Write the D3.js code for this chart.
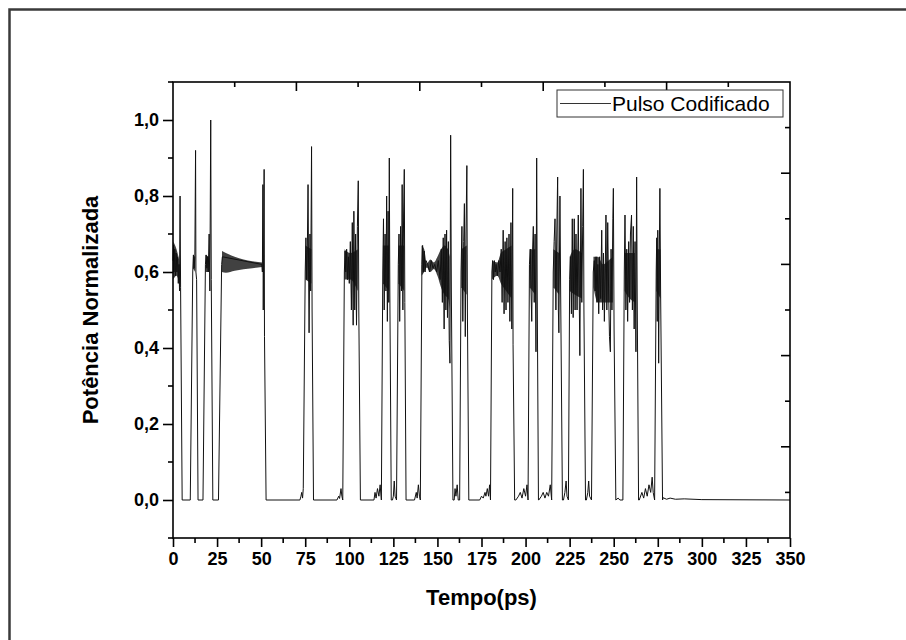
<!DOCTYPE html>
<html>
<head>
<meta charset="utf-8">
<script src="https://cdn.jsdelivr.net/npm/d3@7"></script>
<style>
  body { margin: 0; background: #fff; }
  text { font-family: "Liberation Sans", Arial, sans-serif; }
</style>
</head>
<body>
<div id="chart"></div>
<script>
// Pulso codificado: potência normalizada versus tempo (ps)
var xTicks = [0, 25, 50, 75, 100, 125, 150, 175, 200, 225, 250, 275, 300, 325, 350];
var xMinor = [12.5, 37.5, 62.5, 87.5, 112.5, 137.5, 162.5, 187.5, 212.5, 237.5, 262.5, 287.5, 312.5, 337.5];
var yTicks = [0, 0.2, 0.4, 0.6, 0.8, 1.0];
var yMinor = [-0.1, 0.1, 0.3, 0.5, 0.7, 0.9, 1.1];
var auxTicks = [1, 2, 3, 4, 5, 6, 7, 8, 9]; // eixos secundarios (topo e direita)

// traço: [tempo, potência]
var pulso = [
  [0,0.63],[0.3,0.67],[0.6,0.6],[1,0.66],[1.4,0.59],[1.8,0.65],[2.2,0.6],[2.6,0.64],[3,0.57],[3.4,0.62],[3.7,0.55],[4.0,0.8],[4.3,0.56],[5.2,0],
  [9.8,0],[11.2,0.6],[11.6,0.645],[12,0.61],[12.4,0.64],[12.8,0.92],[13.0,0.6],[13.4,0.58],[14.2,0],
  [17,0],[18.4,0.62],[18.8,0.645],[19.2,0.61],[19.6,0.64],[20,0.6],[20.5,0.7],[20.9,0.55],[21.4,1.0],[21.7,0.58],[22.6,0],
  [25.8,0],[27.6,0.62],[28,0.64],[50.4,0.62],[50.7,0.6],[51,0.83],[51.2,0.5],[51.7,0.87],[51.9,0.43],[52.8,0],
  [72,0],[72.6,0.01],[73,0.02],[73.5,0.005],[73.9,0.03],
  [75,0.6],[75.4,0.69],[75.8,0.58],[76.2,0.66],[76.6,0.83],[77,0.55],[77.2,0.44],[77.7,0.7],[78.1,0.55],[78.6,0.93],[78.9,0.5],[79.7,0],
  [93,0],[94,0.01],[94.5,0.004],[95.3,0.03],[95.8,0.01],[96.3,0],
  [97.2,0.6],[97.6,0.655],[98,0.6],[98.5,0.66],[99,0.58],[99.5,0.64],[100,0.57],[100.6,0.68],[101.2,0.5],[101.7,0.73],[102.2,0.46],[102.6,0.76],[103.1,0.5],[103.6,0.7],[104.1,0.46],[104.6,0.72],[105.1,0.84],[105.4,0.5],[106.3,0],
  [114,0],[114.6,0.02],[115.2,0.005],[116,0.03],[116.8,0.01],[117.5,0.04],[118.2,0],
  [119,0.6],[119.4,0.74],[119.8,0.5],[120.3,0.7],[120.8,0.55],[121.2,0.8],[121.6,0.47],[122,0.76],[122.4,0.52],[122.7,0.9],[123,0.55],[123.8,0],
  [124.5,0],[125,0.01],[125.5,0.05],[126,0.01],[126.8,0],
  [127.8,0.62],[128.2,0.7],[128.6,0.47],[129.1,0.72],[129.6,0.55],[130,0.83],[130.4,0.5],[130.8,0.75],[131.2,0.87],[131.5,0.52],[132.2,0],
  [137,0],[138,0.02],[138.5,0.005],[139.2,0.04],[139.8,0.01],[140.3,0],
  [141.2,0.62],[141.6,0.67],[142,0.6],[142.5,0.655],[143,0.6],[143.5,0.63],[144.5,0.62],[145.5,0.6],[146.5,0.63],[147.5,0.61],[148.5,0.62],[149.5,0.6],[150.5,0.63],[151.5,0.58],[152.2,0.66],[152.8,0.52],[153.3,0.69],[153.8,0.45],[154.3,0.7],[154.8,0.5],[155.2,0.71],[155.7,0.48],[156.2,0.68],[156.7,0.42],[157.1,0.36],[157.5,0.96],[157.9,0.55],[158.8,0],
  [159.5,0],[160,0.03],[160.5,0.01],[161.2,0.04],[161.8,0],[162.6,0],
  [163.4,0.6],[163.9,0.72],[164.4,0.47],[164.9,0.68],[165.3,0.78],[165.8,0.43],[166.2,0.7],[166.7,0.88],[167,0.5],[167.8,0],
  [174,0],[175,0.01],[176,0.005],[177,0.02],[177.5,0.01],[178.3,0.03],[179,0.01],[179.6,0.04],[180.1,0],
  [180.9,0.6],[181.3,0.63],[181.8,0.58],[182.3,0.63],[182.8,0.6],[183.3,0.62],[184,0.59],[184.8,0.63],[185.5,0.6],[186.2,0.66],[186.7,0.52],[187.3,0.71],[187.8,0.49],[188.4,0.68],[188.9,0.5],[189.4,0.69],[190,0.52],[190.6,0.7],[191.1,0.47],[191.7,0.73],[192.2,0.45],[192.7,0.82],[192.9,0.41],[193.8,0],
  [194.5,0],[196,0.01],[197,0.02],[198,0.005],[199,0.03],[200,0.01],[200.8,0.04],[201.4,0],
  [202.2,0.62],[202.7,0.66],[203.1,0.55],[203.5,0.47],[204,0.66],[204.4,0.72],[204.9,0.52],[205.4,0.7],[205.9,0.39],[206.3,0.9],[206.6,0.55],[207.3,0],
  [207.5,0],[209,0.01],[210,0.02],[211,0.005],[212,0.02],[213,0.01],[214,0.04],[214.8,0],
  [215.7,0.6],[216.2,0.68],[216.7,0.74],[217.2,0.5],[217.7,0.7],[218.2,0.85],[218.6,0.5],[218.9,0.44],[219.5,0.8],[219.9,0.55],[220.9,0],
  [221.5,0],[222.3,0.02],[223,0.05],[223.5,0.01],[224.3,0],
  [225,0.58],[225.5,0.64],[226,0.49],[226.5,0.74],[227,0.48],[227.6,0.74],[228.1,0.5],[228.6,0.7],[229.2,0.5],[229.9,0.75],[230.4,0.55],[230.8,0.38],[231.4,0.82],[231.9,0.52],[232.4,0.72],[232.8,0.87],[233.1,0.5],[234,0],
  [234.5,0],[235.3,0.02],[235.8,0.05],[236.3,0.01],[237.4,0],
  [238.4,0.6],[239,0.63],[239.5,0.55],[240,0.64],[240.5,0.52],[241,0.62],[241.5,0.49],[242,0.64],[242.6,0.53],[243.2,0.71],[243.7,0.5],[244.2,0.65],[244.7,0.47],[245.2,0.6],[245.6,0.75],[246.1,0.5],[246.6,0.73],[247.1,0.55],[247.6,0.43],[248.1,0.39],[248.5,0.66],[249,0.5],[249.5,0.74],[249.8,0.82],[250.2,0.45],[251.2,0],
  [252.5,0.005],[253.5,0],[255.2,0],
  [256,0.6],[256.4,0.75],[256.9,0.5],[257.4,0.66],[257.9,0.47],[258.5,0.68],[259,0.52],[259.5,0.7],[260.1,0.75],[260.6,0.5],[261.1,0.72],[261.6,0.45],[262.1,0.68],[262.6,0.39],[263,0.85],[263.3,0.55],[264.1,0],
  [264.5,0],[266,0.02],[267,0.005],[268,0.03],[269,0.01],[270,0.04],[271,0.02],[271.8,0.06],[272.4,0.02],[273.2,0],
  [274.1,0.6],[274.4,0.69],[274.7,0.47],[275,0.71],[275.3,0.55],[275.5,0.36],[275.9,0.66],[276.2,0.82],[276.6,0.55],[277.7,0],
  [278,0.006],[280,0.002],[282,0.005],[285,0.002],[290,0.003],[300,0.001],[350,0]
];

// regioes de oscilacao densa: [tempo, minimo, maximo]
var bandas = [
  [[0.1,0.58,0.68],[2,0.59,0.66],[3.6,0.57,0.63]],
  [[11.3,0.61,0.645],[12.6,0.6,0.64]],
  [[18.5,0.6,0.645],[20.3,0.6,0.64]],
  [[27.8,0.6,0.655],[30,0.598,0.65],[35,0.603,0.64],[40,0.607,0.633],[45,0.61,0.628],[50.5,0.613,0.625]],
  [[75.1,0.58,0.67],[78.5,0.57,0.66]],
  [[97.3,0.58,0.66],[100.5,0.58,0.65],[104.8,0.55,0.66]],
  [[119.1,0.57,0.67],[122.6,0.55,0.67]],
  [[127.9,0.57,0.67],[131.1,0.55,0.67]],
  [[141,0.59,0.67],[142.5,0.6,0.66],[144,0.612,0.622],[146,0.6,0.633],[148,0.608,0.625],[150,0.59,0.64],[152,0.56,0.66],[154,0.54,0.67],[156,0.53,0.66],[157,0.5,0.64]],
  [[163.5,0.56,0.66],[166.6,0.54,0.67]],
  [[181,0.58,0.63],[184,0.59,0.625],[186,0.57,0.65],[189,0.55,0.66],[192,0.53,0.67]],
  [[202.3,0.56,0.66],[205.5,0.54,0.66]],
  [[215.8,0.56,0.66],[219,0.54,0.65]],
  [[225,0.55,0.64],[228,0.54,0.66],[232,0.53,0.65]],
  [[238.5,0.56,0.64],[241,0.52,0.64],[244,0.52,0.62],[247,0.52,0.63],[249.5,0.52,0.64]],
  [[256.2,0.55,0.65],[259,0.53,0.65],[262,0.52,0.65]],
  [[274.2,0.55,0.66],[276.5,0.53,0.66]]
];

var serie = 'Pulso Codificado';

var W = 906, H = 640;
var margin = {top: 82, right: 116, bottom: 102, left: 173};
var width = W - margin.left - margin.right,
    height = H - margin.top - margin.bottom;

var svg = d3.select('#chart').append('svg')
    .attr('width', W)
    .attr('height', H);

svg.append('rect').attr('width', W).attr('height', H).attr('fill', '#fff');

// moldura externa (recorte)
svg.append('path')
    .attr('d', 'M9.5,' + H + 'V9.5H' + W)
    .attr('fill', 'none')
    .attr('stroke', '#3a3a3a')
    .attr('stroke-width', 2.5);

var g = svg.append('g').attr('transform', 'translate(' + margin.left + ',' + margin.top + ')');

var x = d3.scaleLinear().domain([0, 350]).range([0, width]);
var y = d3.scaleLinear().domain([-0.1, 1.1]).range([height, 0]);
var xAux = d3.scaleLinear().domain([0, 10]).range([0, width]);
var yAux = d3.scaleLinear().domain([0, 10]).range([height, 0]);

var fmt = function(d) { return d3.format('.1f')(d).replace('.', ','); };

// bandas densas
var area = d3.area()
    .x(function(d) { return x(d[0]); })
    .y0(function(d) { return y(d[1]); })
    .y1(function(d) { return y(d[2]); })
    .curve(d3.curveMonotoneX);

g.append('g').selectAll('path')
    .data(bandas)
    .enter().append('path')
    .attr('d', area)
    .attr('fill', '#111')
    .attr('fill-opacity', 0.8);

var line = d3.line()
    .x(function(d) { return x(d[0]); })
    .y(function(d) { return y(d[1]); });

g.append('path')
    .datum(pulso)
    .attr('d', line)
    .attr('fill', 'none')
    .attr('stroke', '#111')
    .attr('stroke-width', 1);

// eixos principais
var axBottom = g.append('g')
    .attr('transform', 'translate(0,' + height + ')')
    .call(d3.axisBottom(x).tickValues(xTicks).tickSize(9).tickPadding(5).tickFormat(d3.format('d')));
axBottom.append('g').selectAll('line')
    .data(xMinor).enter().append('line')
    .attr('x1', function(d) { return x(d); }).attr('x2', function(d) { return x(d); })
    .attr('y1', 0).attr('y2', 5);

var axLeft = g.append('g')
    .call(d3.axisLeft(y).tickValues(yTicks).tickSize(10).tickPadding(4).tickFormat(fmt));
axLeft.append('g').selectAll('line')
    .data(yMinor).enter().append('line')
    .attr('x1', 0).attr('x2', -5)
    .attr('y1', function(d) { return y(d); }).attr('y2', function(d) { return y(d); });

// eixos secundarios sem rotulo, marcas para dentro
g.append('g').selectAll('line')
    .data(auxTicks).enter().append('line')
    .attr('x1', function(d) { return xAux(d); }).attr('x2', function(d) { return xAux(d); })
    .attr('y1', 0).attr('y2', function(d) { return d % 2 == 0 ? 9 : 5; });
g.append('g').selectAll('line')
    .data(auxTicks).enter().append('line')
    .attr('x1', width).attr('x2', function(d) { return width - (d % 2 == 0 ? 9 : 5); })
    .attr('y1', function(d) { return yAux(d); }).attr('y2', function(d) { return yAux(d); });

g.selectAll('.domain').remove();
g.append('rect')
    .attr('width', width).attr('height', height)
    .attr('fill', 'none').attr('stroke', '#000').attr('stroke-width', 1.6);

g.selectAll('line').attr('stroke', '#000').attr('stroke-width', 1.6);
g.selectAll('.tick text')
    .attr('font-size', 18)
    .attr('font-weight', 'bold')
    .attr('fill', '#000')
    .style('font-family', '"Liberation Sans", Arial, sans-serif');

// titulos
g.append('text')
    .attr('x', width / 2)
    .attr('y', height + 67)
    .attr('text-anchor', 'middle')
    .attr('font-size', 22)
    .attr('font-weight', 'bold')
    .text('Tempo(ps)');

g.append('text')
    .attr('transform', 'translate(' + (-75) + ',' + y(0.5) + ') rotate(-90)')
    .attr('text-anchor', 'middle')
    .attr('font-size', 22)
    .attr('font-weight', 'bold')
    .text('Potência Normalizada');

// legenda
var legend = g.append('g').attr('transform', 'translate(' + (width - 233) + ',8)');
legend.append('rect')
    .attr('width', 226).attr('height', 27)
    .attr('fill', '#fff').attr('stroke', '#333').attr('stroke-width', 1);
legend.append('line')
    .attr('x1', 3).attr('x2', 54).attr('y1', 13.5).attr('y2', 13.5)
    .attr('stroke', '#333').attr('stroke-width', 1);
legend.append('text')
    .attr('x', 55).attr('y', 21)
    .attr('font-size', 21)
    .text(serie);
</script>
</body>
</html>
